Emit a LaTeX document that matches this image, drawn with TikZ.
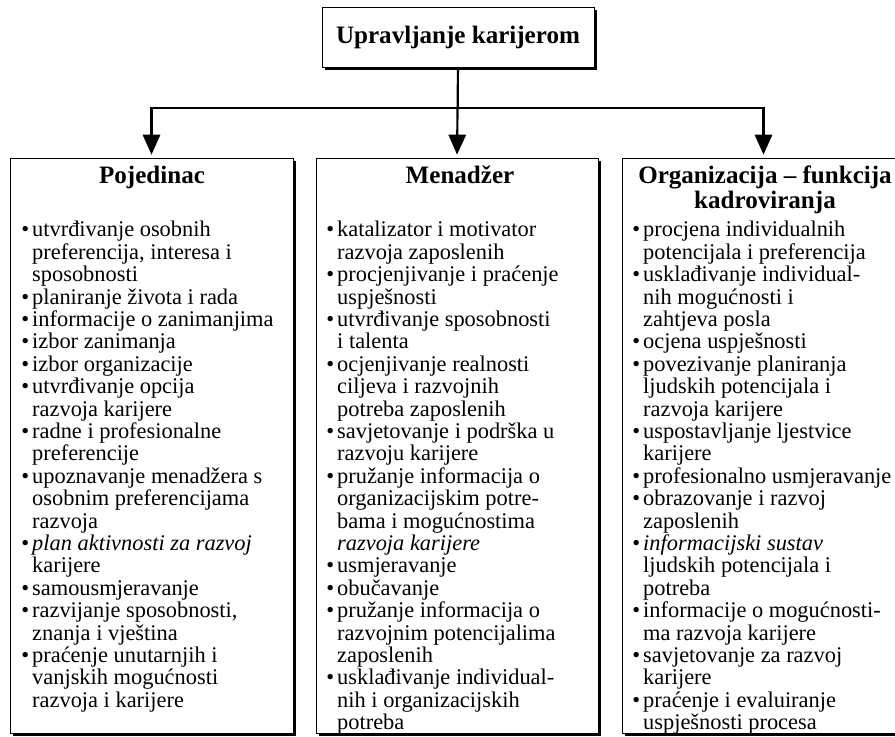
\documentclass[tikz,border=0pt]{standalone}
\usepackage{fontspec}
\setmainfont{Liberation Serif}
\usetikzlibrary{arrows.meta,shadows}

\tikzset{
  box/.style={draw, line width=0.6pt, fill=white,
    drop shadow={fill=black, opacity=1, shadow xshift=2.2pt, shadow yshift=-2.2pt}},
  head/.style={font={\bfseries\fontsize{18.8}{17}\selectfont}, align=center, inner sep=0pt},
  list/.style={font={\fontsize{16.8}{16.8}\selectfont}, align=left, anchor=north west, inner sep=0pt},
  link/.style={line width=1.6pt},
  tip/.style={link, -{Triangle[length=15pt,width=13pt]}, shorten >=2.2pt}
}
\newcommand{\lbul}{\makebox[8.2pt][l]{•}}
\newcommand{\lind}{\hspace*{8.2pt}}

\begin{document}
\begin{tikzpicture}[x=0.75pt,y=-0.75pt]
  \useasboundingbox (0,0) rectangle (895,737);
  %% top box
  \node[box, head, minimum width=204pt, minimum height=45pt] (top) at (458,37) {Upravljanje karijerom};
  %% three columns
  \node[box, minimum width=212.25pt, minimum height=431.25pt] (pojedinac) at (151.5,445.5) {};
  \node[box, minimum width=211.5pt, minimum height=431.25pt] (menadzer) at (457,445.5) {};
  \node[box, minimum width=212.25pt, minimum height=431.25pt] (organizacija) at (763.5,445.5) {};
  %% arrows
  \coordinate (split) at (458,108);
  \draw[tip] (top.south) |- (split) -| (pojedinac.north);
  \draw[tip] (top.south) -- (menadzer.north);
  \draw[tip] (top.south) |- (split) -| (organizacija.north);
  %% headings
  \node[head, anchor=base] (hpoj) at (152,184) {Pojedinac};
  \node[head, anchor=base] (hmen) at (460,184) {Menadžer};
  \node[head, anchor=north] (horg) at (765,166) {Organizacija – funkcija\\kadroviranja};
  %% lists
  \node[list] (lpoj) at (21,221) {%
    \lbul utvrđivanje osobnih\\
    \lind preferencija, interesa i\\
    \lind sposobnosti\\
    \lbul planiranje života i rada\\
    \lbul informacije o zanimanjima\\
    \lbul izbor zanimanja\\
    \lbul izbor organizacije\\
    \lbul utvrđivanje opcija\\
    \lind razvoja karijere\\
    \lbul radne i profesionalne\\
    \lind preferencije\\
    \lbul upoznavanje menadžera s\\
    \lind osobnim preferencijama\\
    \lind razvoja\\
    \lbul \textit{plan aktivnosti za razvoj}\\
    \lind karijere\\
    \lbul samousmjeravanje\\
    \lbul razvijanje sposobnosti,\\
    \lind znanja i vještina\\
    \lbul praćenje unutarnjih i\\
    \lind vanjskih mogućnosti\\
    \lind razvoja i karijere};
  \node[list] (lmen) at (326,221) {%
    \lbul katalizator i motivator\\
    \lind razvoja zaposlenih\\
    \lbul procjenjivanje i praćenje\\
    \lind uspješnosti\\
    \lbul utvrđivanje sposobnosti\\
    \lind i talenta\\
    \lbul ocjenjivanje realnosti\\
    \lind ciljeva i razvojnih\\
    \lind potreba zaposlenih\\
    \lbul savjetovanje i podrška u\\
    \lind razvoju karijere\\
    \lbul pružanje informacija o\\
    \lind organizacijskim potre-\\
    \lind bama i mogućnostima\\
    \lind \textit{razvoja karijere}\\
    \lbul usmjeravanje\\
    \lbul obučavanje\\
    \lbul pružanje informacija o\\
    \lind razvojnim potencijalima\\
    \lind zaposlenih\\
    \lbul usklađivanje individual-\\
    \lind nih i organizacijskih\\
    \lind potreba};
  \node[list] (lorg) at (632,221) {%
    \lbul procjena individualnih\\
    \lind potencijala i preferencija\\
    \lbul usklađivanje individual-\\
    \lind nih mogućnosti i\\
    \lind zahtjeva posla\\
    \lbul ocjena uspješnosti\\
    \lbul povezivanje planiranja\\
    \lind ljudskih potencijala i\\
    \lind razvoja karijere\\
    \lbul uspostavljanje ljestvice\\
    \lind karijere\\
    \lbul profesionalno usmjeravanje\\
    \lbul obrazovanje i razvoj\\
    \lind zaposlenih\\
    \lbul \textit{informacijski sustav}\\
    \lind ljudskih potencijala i\\
    \lind potreba\\
    \lbul informacije o mogućnosti-\\
    \lind ma razvoja karijere\\
    \lbul savjetovanje za razvoj\\
    \lind karijere\\
    \lbul praćenje i evaluiranje\\
    \lind uspješnosti procesa};
\end{tikzpicture}
\end{document}
